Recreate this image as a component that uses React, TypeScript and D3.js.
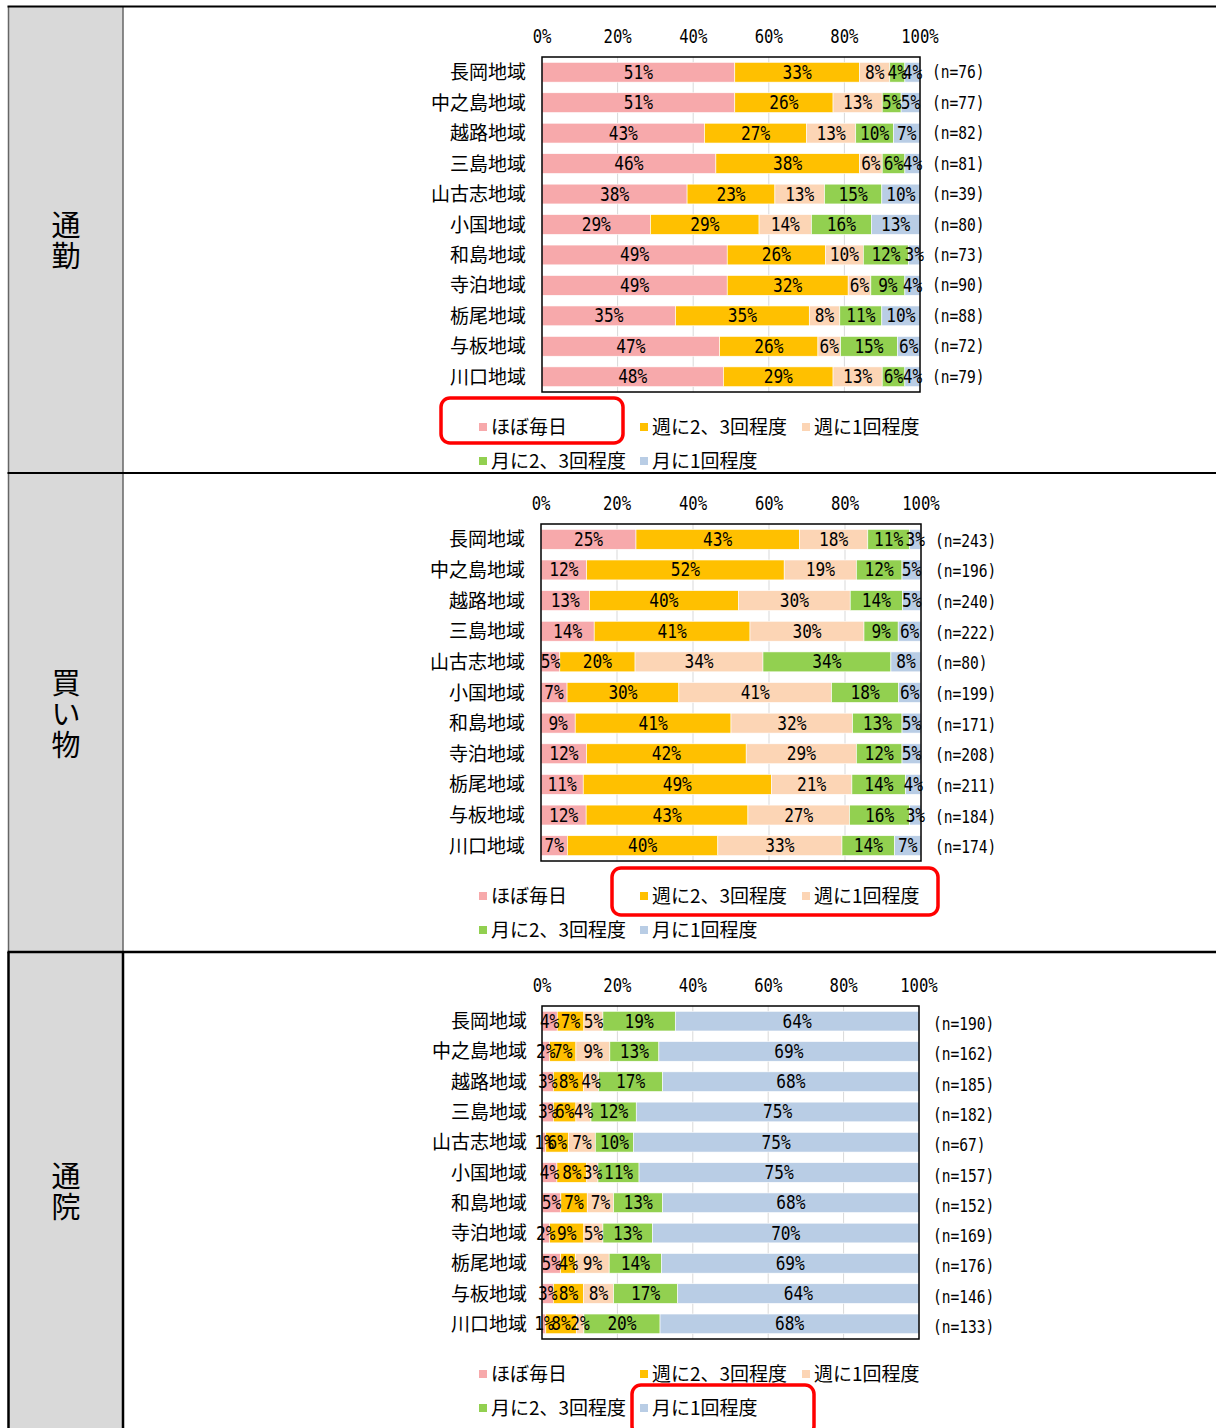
import React from 'react';
import * as d3 from 'd3';

const categories = ['長岡地域', '中之島地域', '越路地域', '三島地域', '山古志地域', '小国地域', '和島地域', '寺泊地域', '栃尾地域', '与板地域', '川口地域'];
const seriesNames = ['ほぼ毎日', '週に2、3回程度', '週に1回程度', '月に2、3回程度', '月に1回程度'];
const seriesColors = ['#F7A9AB', '#FFC000', '#FCD5B5', '#92D050', '#B9CDE5'];
const tickValues = [0, 20, 40, 60, 80, 100];

const commuteValues = [
  [51, 33, 8, 4, 4],
  [51, 26, 13, 5, 5],
  [43, 27, 13, 10, 7],
  [46, 38, 6, 6, 4],
  [38, 23, 13, 15, 10],
  [29, 29, 14, 16, 13],
  [49, 26, 10, 12, 3],
  [49, 32, 6, 9, 4],
  [35, 35, 8, 11, 10],
  [47, 26, 6, 15, 6],
  [48, 29, 13, 6, 4],
];
const commuteN = [76, 77, 82, 81, 39, 80, 73, 90, 88, 72, 79];

const shoppingValues = [
  [25, 43, 18, 11, 3],
  [12, 52, 19, 12, 5],
  [13, 40, 30, 14, 5],
  [14, 41, 30, 9, 6],
  [5, 20, 34, 34, 8],
  [7, 30, 41, 18, 6],
  [9, 41, 32, 13, 5],
  [12, 42, 29, 12, 5],
  [11, 49, 21, 14, 4],
  [12, 43, 27, 16, 3],
  [7, 40, 33, 14, 7],
];
const shoppingN = [243, 196, 240, 222, 80, 199, 171, 208, 211, 184, 174];

const hospitalValues = [
  [4, 7, 5, 19, 64],
  [2, 7, 9, 13, 69],
  [3, 8, 4, 17, 68],
  [3, 6, 4, 12, 75],
  [1, 6, 7, 10, 75],
  [4, 8, 3, 11, 75],
  [5, 7, 7, 13, 68],
  [2, 9, 5, 13, 70],
  [5, 4, 9, 14, 69],
  [3, 8, 8, 17, 64],
  [1, 8, 2, 20, 68],
];
const hospitalN = [190, 162, 185, 182, 67, 157, 152, 169, 176, 146, 133];

const FONT_JP = '"Noto Sans CJK JP", "Noto Sans", sans-serif';
const FONT_NUM = '"DejaVu Sans Mono", "Liberation Mono", monospace';

const panels = [
  {
    title: ['通', '勤'], values: commuteValues, n: commuteN,
    top: 6.5, bottom: 473,
    plot: { x0: 542, x1: 920, y0: 57, y1: 392 }, tickY: 36, labelX: 526, nX: 932, nDy: 0,
    legendY: [427, 461], box: { x: 441, y: 398, w: 182, h: 45 }, dark: false,
  },
  {
    title: ['買', 'い', '物'], values: shoppingValues, n: shoppingN,
    top: 473, bottom: 952,
    plot: { x0: 541, x1: 921, y0: 524, y1: 861 }, tickY: 503, labelX: 525, nX: 935, nDy: 1.5,
    legendY: [896, 930], box: { x: 612, y: 868, w: 326, h: 47 }, dark: false,
  },
  {
    title: ['通', '院'], values: hospitalValues, n: hospitalN,
    top: 952, bottom: 1428,
    plot: { x0: 542, x1: 919, y0: 1006, y1: 1339 }, tickY: 985, labelX: 527, nX: 933, nDy: 3,
    legendY: [1374, 1408], box: { x: 632, y: 1385, w: 182, h: 50 }, dark: true,
  },
];

const legendCols = [479, 640, 802];
const legendLayout = [
  [0, 0], [0, 1], [0, 2], [1, 0], [1, 1],
];

const keys = seriesNames.map((_, i) => 's' + i);

function NumText({ x, y, text, size = 19, sx = 0.85, anchor = 'middle' }) {
  return (
    <text
      transform={`translate(${x},${y}) scale(${sx},1)`}
      textAnchor={anchor}
      dominantBaseline="central"
      fontFamily={FONT_NUM}
      fontSize={size}
      fill="#000"
    >
      {text}
    </text>
  );
}

function Panel({ p }) {
  const x = d3.scaleLinear().domain([0, 100]).range([p.plot.x0, p.plot.x1]);
  const y = d3.scaleBand().domain(categories).range([p.plot.y0, p.plot.y1]).paddingInner(0.35).paddingOuter(0.175);
  const rows = categories.map((c, i) => {
    const total = d3.sum(p.values[i]);
    const o = { cat: c };
    p.values[i].forEach((v, j) => { o['s' + j] = (v / total) * 100; });
    return o;
  });
  const stacked = d3.stack().keys(keys)(rows);
  const bw = y.bandwidth();
  return (
    <g>
      {tickValues.slice(1, -1).map((t) => (
        <line key={t} x1={x(t)} x2={x(t)} y1={p.plot.y0} y2={p.plot.y1} stroke="#d9d9d9" strokeWidth={1} />
      ))}
      {tickValues.map((t) => (
        <NumText key={'t' + t} x={x(t)} y={p.tickY} text={`${t}%`} size={19} sx={0.82} />
      ))}
      {stacked.map((layer, j) => (
        <g key={layer.key}>
          {layer.map((d, i) => (
            <rect
              key={i}
              x={x(d[0])}
              y={y(categories[i])}
              width={Math.max(0, x(d[1]) - x(d[0]))}
              height={bw}
              fill={seriesColors[j]}
              stroke="#ffffff"
              strokeWidth={0.6}
            />
          ))}
        </g>
      ))}
      {stacked.map((layer, j) => (
        <g key={'l' + layer.key}>
          {layer.map((d, i) => (
            <NumText
              key={i}
              x={(x(d[0]) + x(d[1])) / 2}
              y={y(categories[i]) + bw / 2}
              text={`${p.values[i][j]}%`}
            />
          ))}
        </g>
      ))}
      <rect x={p.plot.x0} y={p.plot.y0} width={p.plot.x1 - p.plot.x0} height={p.plot.y1 - p.plot.y0} fill="none" stroke="#000" strokeWidth={1.5} />
      {categories.map((c) => (
        <text key={c} x={p.labelX} y={y(c) + bw / 2 - 1.5} textAnchor="end" dominantBaseline="central" fontFamily={FONT_JP} fontSize={19} fill="#000">
          {c}
        </text>
      ))}
      {categories.map((c, i) => (
        <NumText key={'n' + c} x={p.nX} y={y(c) + bw / 2 + p.nDy} text={`(n=${p.n[i]})`} size={18} sx={0.81} anchor="start" />
      ))}
      {seriesNames.map((s, k) => {
        const [r, cIdx] = legendLayout[k];
        const lx = legendCols[cIdx];
        const ly = p.legendY[r];
        return (
          <g key={s}>
            <rect x={lx} y={ly - 4} width={8} height={8} fill={seriesColors[k]} />
            <text x={lx + 12} y={ly - 1.5} dominantBaseline="central" fontFamily={FONT_JP} fontSize={19} fill="#000">
              {s}
            </text>
          </g>
        );
      })}
      <rect x={p.box.x} y={p.box.y} width={p.box.w} height={p.box.h} rx={9} ry={9} fill="none" stroke="#FF0000" strokeWidth={3.5} />
    </g>
  );
}

export default function App() {
  const W = 1216;
  const H = 1428;
  return (
    <svg width={W} height={H} viewBox={`0 0 ${W} ${H}`} style={{ position: 'absolute', left: 0, top: 0, display: 'block', background: '#fff' }}>
      <rect x={0} y={0} width={W} height={H} fill="#fff" />
      <rect x={8.5} y={6.5} width={114.5} height={H - 6.5} fill="#D9D9D9" />
      {panels.map((p, i) => (
        <g key={'col' + i}>
          <line x1={8.5} x2={8.5} y1={p.top} y2={p.bottom} stroke={p.dark ? '#000' : '#666'} strokeWidth={p.dark ? 2.5 : 1.5} />
          <line x1={123} x2={123} y1={p.top} y2={p.bottom} stroke={p.dark ? '#000' : '#666'} strokeWidth={p.dark ? 2.5 : 1.5} />
          {p.title.map((ch, k) => (
            <text
              key={k}
              x={66}
              y={(p.top + p.bottom) / 2 + (k - (p.title.length - 1) / 2) * 31 - 1}
              textAnchor="middle"
              dominantBaseline="central"
              fontFamily={FONT_JP}
              fontSize={29}
              fill="#000"
            >
              {ch}
            </text>
          ))}
        </g>
      ))}
      <line x1={7.5} x2={W} y1={6.5} y2={6.5} stroke="#000" strokeWidth={2} />
      <line x1={7.5} x2={W} y1={473} y2={473} stroke="#000" strokeWidth={2} />
      <line x1={7.5} x2={W} y1={952} y2={952} stroke="#000" strokeWidth={2.5} />
      {panels.map((p, i) => (
        <Panel key={i} p={p} />
      ))}
    </svg>
  );
}
